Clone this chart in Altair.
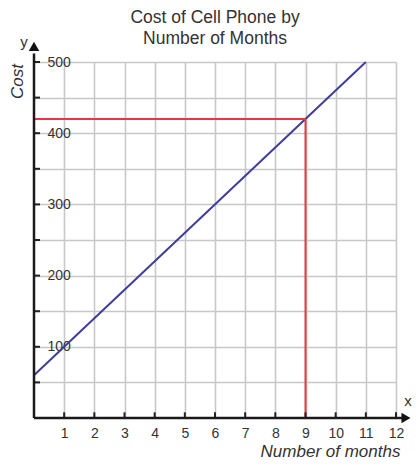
import altair as alt
import pandas as pd

# --- data ---
line_months = [0, 11]
line_cost = [60, 500]
hl_month = 9
hl_cost = 420
x_tick_values = list(range(1, 13))
y_grid_values = list(range(50, 501, 50))

# axis / arrow helper positions (data units)
x_axis_end = 12.2
y_axis_end = 512
x_arrow_at = 12.33
y_arrow_at = 522
y_tick_len = 0.2   # in months
x_tick_len = 8     # in cost units
x_letter_pos = [12.4, 24]
y_letter_pos = [-0.33, 528]

FONT = "Liberation Sans"
TXT = "#333333"

line_df = pd.DataFrame({"month": line_months, "cost": line_cost})
hl_df = pd.DataFrame({
    "x": [0, hl_month], "x2": [hl_month, hl_month],
    "y": [hl_cost, 0], "y2": [hl_cost, hl_cost],
})
xt_df = pd.DataFrame({"month": x_tick_values, "y0": 0, "y1": x_tick_len})
yt_df = pd.DataFrame({"cost": y_grid_values, "x0": 0, "x1": y_tick_len})
axes_df = pd.DataFrame({
    "x": [0, 0], "x2": [x_axis_end, 0],
    "y": [0, 0], "y2": [0, y_axis_end],
})
arrow_df = pd.DataFrame({
    "x": [x_arrow_at, 0], "y": [0, y_arrow_at],
    "shape": ["triangle-right", "triangle-up"],
})
letter_df = pd.DataFrame({
    "x": [x_letter_pos[0], y_letter_pos[0]],
    "y": [x_letter_pos[1], y_letter_pos[1]],
    "t": ["x", "y"],
})

xs = alt.Scale(domain=[0, 12], nice=False, zero=False)
ys = alt.Scale(domain=[0, 500], nice=False, zero=False)

x_axis = alt.Axis(
    values=x_tick_values, grid=True, gridColor="#c8c8c8", gridWidth=1.6,
    domain=False, ticks=False, tickSize=0, labelPadding=8,
    labelFontSize=14, labelFont=FONT, labelColor=TXT,
    labelFlush=False, labelOverlap=False, labelBound=False,
    title="Number of months", titleFont=FONT, titleFontSize=17,
    titleFontStyle="italic", titleFontWeight="normal", titleColor=TXT,
    titleX=296, titleY=33, titleAlign="center", titleBaseline="middle",
)
y_axis = alt.Axis(
    values=y_grid_values, grid=True, gridColor="#c8c8c8", gridWidth=1.6,
    labelExpr="datum.value % 100 == 0 ? datum.label : ''",
    domain=False, ticks=False, tickSize=0, labelPadding=-13,
    labelAlign="left", labelBaseline="middle",
    labelFontSize=14, labelFont=FONT, labelColor=TXT,
    labelFlush=False, labelOverlap=False, labelBound=False,
    title="Cost", titleFont=FONT, titleFontSize=17,
    titleFontStyle="italic", titleFontWeight="normal", titleColor=TXT,
    titleX=-17, titleY=19, titleAlign="center", titleBaseline="middle",
)

base = alt.Chart(line_df).mark_line(color="#3f3d9c", strokeWidth=2).encode(
    x=alt.X("month:Q", scale=xs, axis=x_axis),
    y=alt.Y("cost:Q", scale=ys, axis=y_axis),
)

hl = alt.Chart(hl_df).mark_rule(color="#e8383d", strokeWidth=2).encode(
    x=alt.X("x:Q", scale=xs, axis=x_axis), x2="x2:Q",
    y=alt.Y("y:Q", scale=ys, axis=y_axis), y2="y2:Q",
)

xticks = alt.Chart(xt_df).mark_rule(color="#222", strokeWidth=2).encode(
    x=alt.X("month:Q", scale=xs, axis=x_axis),
    y=alt.Y("y0:Q", scale=ys, axis=y_axis), y2="y1:Q",
)
yticks = alt.Chart(yt_df).mark_rule(color="#222", strokeWidth=2).encode(
    y=alt.Y("cost:Q", scale=ys, axis=y_axis),
    x=alt.X("x0:Q", scale=xs, axis=x_axis), x2="x1:Q",
)

axes = alt.Chart(axes_df).mark_rule(color="#1a1a1a", strokeWidth=2.5).encode(
    x=alt.X("x:Q", scale=xs, axis=x_axis), x2="x2:Q",
    y=alt.Y("y:Q", scale=ys, axis=y_axis), y2="y2:Q",
)

arrows = alt.Chart(arrow_df).mark_point(
    filled=True, color="#111", size=110, opacity=1
).encode(
    x=alt.X("x:Q", scale=xs, axis=x_axis), y=alt.Y("y:Q", scale=ys, axis=y_axis),
    shape=alt.Shape("shape:N", scale=None),
)

letters = alt.Chart(letter_df).mark_text(
    font=FONT, fontSize=15, color=TXT
).encode(
    x=alt.X("x:Q", scale=xs, axis=x_axis), y=alt.Y("y:Q", scale=ys, axis=y_axis),
    text="t:N",
)

chart = alt.layer(base, hl, yticks, xticks, axes, arrows, letters).properties(
    width=362, height=356,
    title=alt.TitleParams(
        text=["Cost of Cell Phone by", "Number of Months"],
        font=FONT, fontSize=17.5, fontWeight="normal", color=TXT,
        anchor="middle", offset=-12, lineHeight=21,
    ),
    autosize=alt.AutoSizeParams(type="none"),
    padding={"left": 26, "top": 54, "right": 16, "bottom": 42},
).configure_view(stroke=None)

chart.save("out.html", embed_options={"renderer": "svg", "actions": False})
